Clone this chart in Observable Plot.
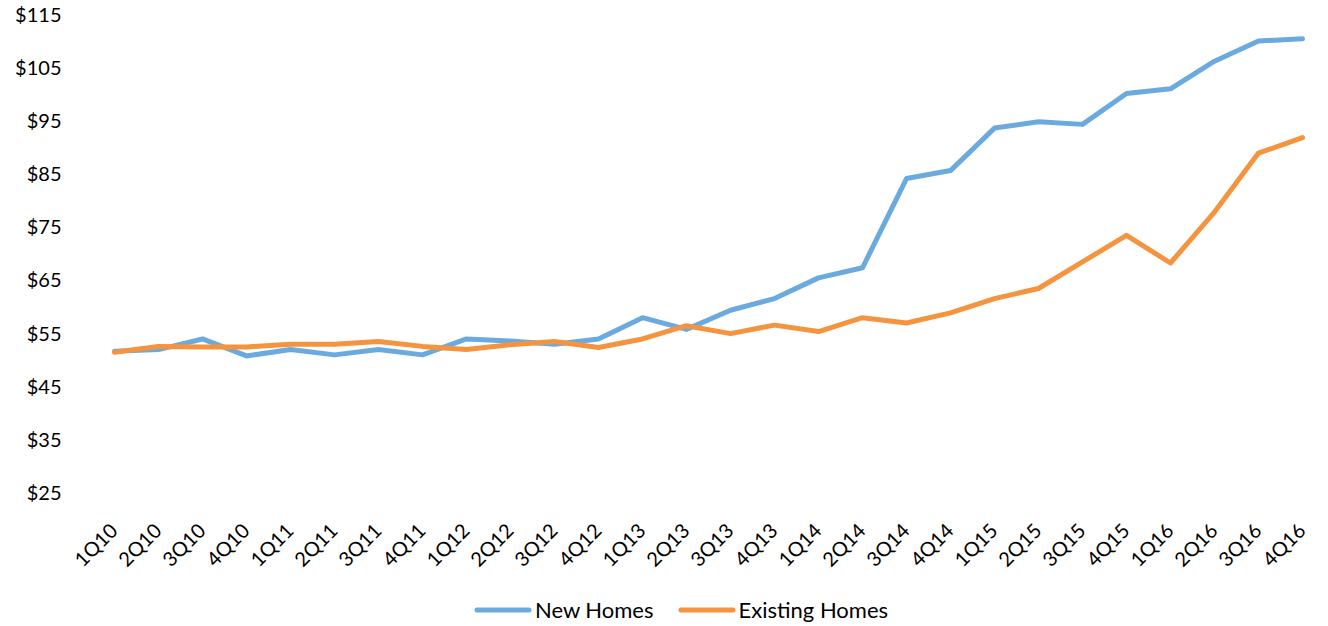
<!DOCTYPE html>
<html>
<head>
<meta charset="utf-8">
<script src="https://cdn.jsdelivr.net/npm/d3@7"></script>
<script src="https://cdn.jsdelivr.net/npm/@observablehq/plot@0.6"></script>
<style>
  body { margin: 0; background: #fff; font-family: Lato, "Open Sans", sans-serif; }
  #chart { width: 1328px; }
  .legend { display: flex; justify-content: center; align-items: center; margin-top: 24px; margin-left: 34px; font-size: 22px; color: #000; }
  .legend .item { display: flex; align-items: center; margin: 0 12px; }
  .legend svg { margin-right: 3px; }
</style>
</head>
<body>
<div id="chart"></div>
<script>
const quarters = ["1Q10","2Q10","3Q10","4Q10","1Q11","2Q11","3Q11","4Q11","1Q12","2Q12","3Q12","4Q12","1Q13","2Q13","3Q13","4Q13","1Q14","2Q14","3Q14","4Q14","1Q15","2Q15","3Q15","4Q15","1Q16","2Q16","3Q16","4Q16"];
const newHomes = [51.8,52.1,54.1,50.9,52.1,51.1,52.1,51.1,54.1,53.7,53.1,54.1,58.1,55.9,59.5,61.7,65.6,67.5,84.3,85.8,93.8,95.0,94.5,100.3,101.2,106.4,110.2,110.6];
const existingHomes = [51.6,52.7,52.6,52.6,53.1,53.1,53.6,52.7,52.1,53.0,53.6,52.5,54.1,56.6,55.1,56.7,55.5,58.1,57.1,59.0,61.7,63.6,68.6,73.6,68.4,78.0,89.1,92.0];
const yTicks = [25,35,45,55,65,75,85,95,105,115];
const seriesNames = ["New Homes","Existing Homes"];
const seriesColors = ["#6aaadf","#f5943f"];

const data = [];
quarters.forEach((q, i) => {
  data.push({quarter: q, value: newHomes[i], series: seriesNames[0]});
  data.push({quarter: q, value: existingHomes[i], series: seriesNames[1]});
});

const plot = Plot.plot({
  width: 1328,
  height: 572,
  marginTop: 15,
  marginLeft: 88,
  marginRight: 0,
  marginBottom: 79,
  style: {fontFamily: "Lato, 'Open Sans', sans-serif", fontSize: "20px", color: "#000", background: "#fff"},
  x: {type: "point", domain: quarters, padding: 0.5, label: null},
  y: {domain: [25, 115], label: null},
  color: {domain: seriesNames, range: seriesColors},
  marks: [
    Plot.gridY(yTicks, {stroke: "#d9d9d9", strokeOpacity: 1, strokeWidth: 2, x1: 88, x2: 1325}),
    Plot.axisY(yTicks, {tickSize: 0, tickPadding: 27, tickFormat: d => "$" + d, fontSize: 20, label: null}),
    Plot.axisX({tickSize: 0, tickRotate: -45, tickPadding: 34, fontSize: 20, label: null}),
    Plot.line(data, {x: "quarter", y: "value", z: "series", stroke: "series", strokeWidth: 5, strokeLinejoin: "round", strokeLinecap: "round"})
  ]
});
document.getElementById("chart").appendChild(plot);

const legend = document.createElement("div");
legend.className = "legend";
seriesNames.forEach((name, i) => {
  const item = document.createElement("div");
  item.className = "item";
  item.innerHTML = `<svg width="58" height="8"><line x1="3" y1="4" x2="55" y2="4" stroke="${seriesColors[i]}" stroke-width="5" stroke-linecap="round"/></svg><span>${name}</span>`;
  legend.appendChild(item);
});
document.getElementById("chart").appendChild(legend);
</script>
</body>
</html>
